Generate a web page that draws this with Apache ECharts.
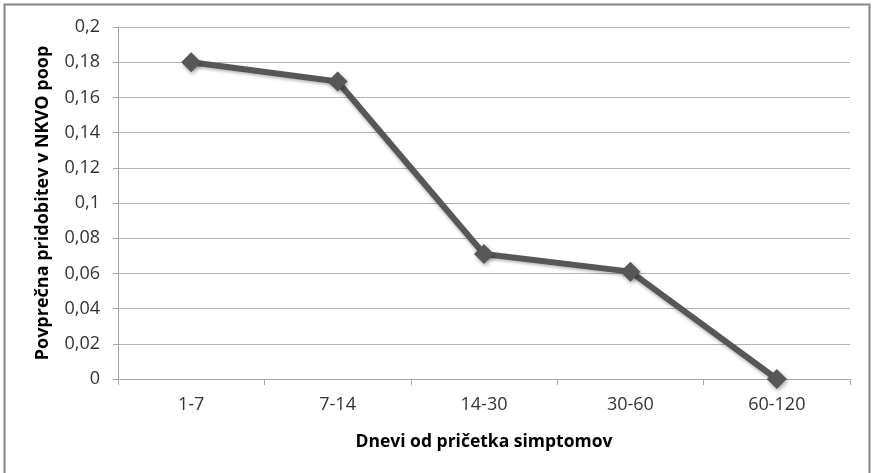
<!DOCTYPE html>
<html>
<head>
<meta charset="utf-8">
<script src="https://cdn.jsdelivr.net/npm/echarts@6/dist/echarts.min.js"></script>
<style>
html,body{margin:0;padding:0;background:#fff;}
#chart{width:873px;height:473px;}
</style>
</head>
<body>
<div id="chart"></div>
<script>
const categories = ['1-7', '7-14', '14-30', '30-60', '60-120'];
const values = [0.18, 0.169, 0.071, 0.061, 0.0];
const yTicks = { min: 0, max: 0.2, interval: 0.02 };
const xTitle = 'Dnevi od pričetka simptomov';
const yTitle = 'Povprečna pridobitev v NKVO poop';

const FONT = 'Open Sans';
const chart = echarts.init(document.getElementById('chart'), null, { renderer: 'canvas' });
chart.setOption({
  animation: false,
  backgroundColor: '#ffffff',
  graphic: [{
    type: 'rect',
    shape: { x: 4.5, y: 4.5, width: 865, height: 480 },
    style: { fill: 'none', stroke: '#868686', lineWidth: 2 },
    silent: true
  }],
  grid: { left: 118, right: 23, top: 27, bottom: 94, containLabel: false },
  xAxis: {
    type: 'category',
    data: categories,
    boundaryGap: true,
    name: xTitle,
    nameLocation: 'middle',
    nameGap: 54,
    nameTextStyle: { fontFamily: FONT, fontWeight: 'bold', fontSize: 17.5, color: '#000' },
    axisLine: { show: true, lineStyle: { color: '#a6a6a6', width: 1 } },
    axisTick: { show: true, length: 6, interval: 0, lineStyle: { color: '#a6a6a6' } },
    axisLabel: { margin: 17, fontFamily: FONT, fontSize: 18, color: '#333', interval: 0 },
    splitLine: { show: false }
  },
  yAxis: {
    type: 'value',
    min: yTicks.min,
    max: yTicks.max,
    interval: yTicks.interval,
    name: yTitle,
    nameLocation: 'middle',
    nameGap: 66,
    nameTextStyle: { fontFamily: FONT, fontWeight: 'bold', fontSize: 18, color: '#000' },
    axisLine: { show: true, lineStyle: { color: '#a6a6a6', width: 1 } },
    axisTick: { show: true, length: 5, lineStyle: { color: '#a6a6a6' } },
    axisLabel: {
      margin: 18, fontFamily: FONT, fontSize: 18, color: '#333',
      formatter: v => String(Math.round(v * 100) / 100).replace('.', ',')
    },
    splitLine: { show: true, lineStyle: { color: '#b3b3b3', width: 1 } }
  },
  series: [{
    type: 'line',
    data: values,
    symbol: 'diamond',
    symbolSize: 20,
    showAllSymbol: true,
    lineStyle: { color: '#575757', width: 6, shadowBlur: 3, shadowOffsetY: 2, shadowColor: 'rgba(0,0,0,0.25)' },
    itemStyle: {
      color: '#575757',
      shadowBlur: 4, shadowOffsetX: 1, shadowOffsetY: 2, shadowColor: 'rgba(0,0,0,0.35)'
    }
  }]
});
</script>
</body>
</html>
